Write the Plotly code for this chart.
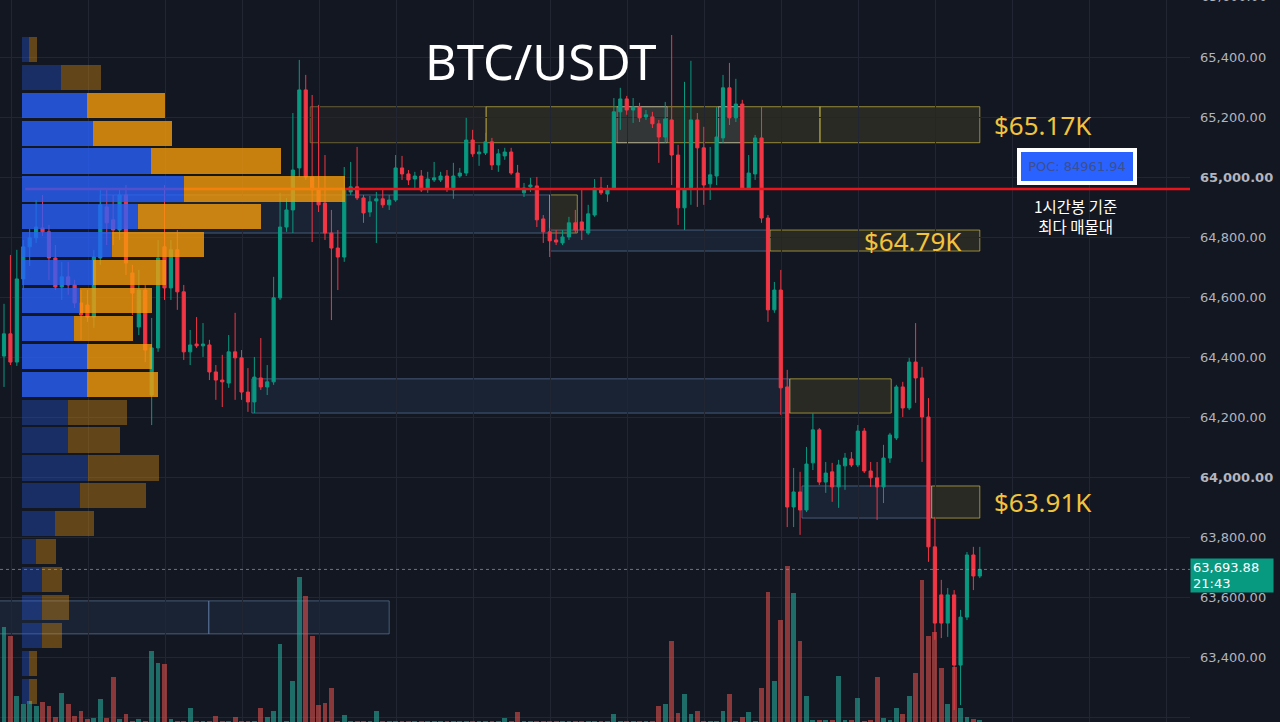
import plotly.graph_objects as go

# ---------------- data ----------------
opens = [64405, 64479, 64385, 64662, 64769, 64799, 64832, 64819, 64732, 64635,
         64669, 64642, 64582, 64575, 64535, 64732, 64902, 64859, 64825, 64942,
         64682, 64502, 64625, 64275, 64432, 64769, 64632, 64759, 64619, 64419,
         64445, 64439, 64442, 64352, 64325, 64315, 64419, 64399, 64285, 64252,
         64332, 64302, 64319, 64599, 64835, 64892, 65032, 65292, 65002, 64959,
         64915, 64815, 64765, 64735, 64952, 64969, 64932, 64885, 64922, 64929,
         64909, 64925, 65032, 65012, 64995, 65005, 64965, 64992, 64992, 65005,
         64959, 65005, 65015, 65125, 65079, 65082, 65119, 65042, 65072, 65085,
         65015, 64949, 64969, 64972, 64862, 64819, 64792, 64782, 64802, 64849,
         64852, 64815, 64875, 64965, 64945, 64965, 65219, 65262, 65225, 65235,
         65202, 65202, 65179, 65135, 65192, 65075, 64899, 64965, 65192, 65099,
         64979, 65005, 65132, 65299, 65199, 65245, 64965, 65012, 65132, 64865,
         64559, 64625, 64302, 63902, 63952, 63892, 64049, 64159, 63985, 64019,
         63969, 64039, 64062, 64042, 64155, 64022, 63999, 63969, 64065, 64132,
         64302, 64232, 64385, 64332, 64202, 63769, 63609, 63515, 63609, 63375,
         63535, 63742, 63672]
highs = [64579, 64742, 64759, 64792, 64829, 64925, 64942, 64842, 64775, 64719,
         64719, 64659, 64625, 64625, 64759, 64959, 64959, 64942, 64965, 64975,
         64709, 64692, 64642, 64532, 64792, 64975, 64792, 64825, 64642, 64492,
         64535, 64515, 64459, 64375, 64409, 64475, 64549, 64425, 64365, 64402,
         64465, 64375, 64669, 64949, 64932, 65215, 65392, 65342, 65275, 65242,
         65075, 64892, 64825, 65035, 65052, 65102, 64942, 64939, 64952, 64959,
         64942, 65075, 65072, 65025, 65019, 65025, 65019, 65052, 65019, 65025,
         65049, 65032, 65199, 65159, 65109, 65149, 65132, 65095, 65099, 65099,
         65042, 64982, 64999, 65002, 64875, 64832, 64825, 64825, 64869, 64892,
         64959, 64909, 64995, 65002, 64975, 65265, 65299, 65272, 65265, 65249,
         65225, 65219, 65192, 65252, 65475, 65109, 65319, 65389, 65215, 65169,
         65102, 65235, 65342, 65382, 65329, 65259, 65075, 65142, 65235, 64875,
         64652, 64692, 64359, 64032, 64019, 64102, 64215, 64165, 64052, 64049,
         64059, 64082, 64085, 64175, 64165, 64052, 64052, 64109, 64149, 64309,
         64319, 64399, 64515, 64369, 64265, 63869, 63659, 63632, 63625, 63559,
         63752, 63769, 63769]
lows = [64302, 64375, 64372, 64625, 64705, 64782, 64805, 64659, 64625, 64592,
        64609, 64565, 64459, 64519, 64499, 64709, 64775, 64775, 64792, 64675,
        64542, 64475, 64385, 64175, 64419, 64592, 64592, 64559, 64392, 64375,
        64432, 64402, 64325, 64259, 64235, 64299, 64259, 64259, 64219, 64215,
        64292, 64275, 64309, 64592, 64819, 64815, 65002, 64992, 64785, 64885,
        64792, 64525, 64625, 64719, 64942, 64925, 64849, 64869, 64782, 64899,
        64892, 64919, 64992, 64975, 64965, 64952, 64949, 64985, 64985, 64952,
        64929, 64999, 65005, 65069, 65039, 65075, 65025, 65019, 65059, 65009,
        64959, 64935, 64952, 64835, 64782, 64735, 64775, 64775, 64792, 64815,
        64792, 64809, 64869, 64942, 64919, 64959, 65159, 65209, 65182, 65185,
        65192, 65165, 65049, 65115, 64975, 64842, 64825, 64909, 64902, 64909,
        64925, 64975, 65115, 65175, 65185, 64959, 64959, 64992, 64849, 64519,
        64549, 64209, 63835, 63835, 63809, 63885, 64025, 63975, 63949, 63919,
        63899, 63959, 64035, 64035, 64015, 63969, 63859, 63915, 64049, 64125,
        64202, 64225, 64249, 64052, 63719, 63459, 63465, 63469, 63225, 63242,
        63525, 63625, 63665]
closes = [64479, 64385, 64662, 64769, 64799, 64835, 64819, 64732, 64635, 64669,
          64642, 64582, 64542, 64535, 64735, 64909, 64849, 64825, 64942, 64715,
          64615, 64625, 64425, 64432, 64732, 64632, 64759, 64619, 64419, 64442,
          64439, 64445, 64352, 64325, 64319, 64419, 64399, 64285, 64252, 64335,
          64302, 64319, 64599, 64835, 64892, 65025, 65292, 65002, 64959, 64909,
          64815, 64765, 64735, 64959, 64969, 64932, 64882, 64919, 64929, 64909,
          64925, 65032, 65012, 64992, 65005, 64959, 64995, 64999, 65005, 64962,
          65005, 65015, 65125, 65079, 65085, 65119, 65042, 65079, 65085, 65015,
          64965, 64965, 64975, 64859, 64819, 64789, 64785, 64802, 64849, 64825,
          64825, 64879, 64965, 64949, 64959, 65219, 65262, 65225, 65235, 65199,
          65209, 65179, 65135, 65195, 65075, 64899, 64959, 65192, 65099, 64975,
          65009, 65135, 65299, 65199, 65245, 64965, 65015, 65132, 64865, 64559,
          64625, 64299, 63902, 63952, 63892, 64045, 64159, 63985, 64015, 63969,
          64042, 64065, 64042, 64155, 64022, 63999, 63969, 64065, 64142, 64302,
          64232, 64385, 64332, 64202, 63769, 63515, 63515, 63609, 63375, 63535,
          63742, 63672, 63693.88]
volumes = [285, 258, 78, 54, 63, 48, 60, 48, 15, 87,
           54, 18, 33, 9, 12, 69, 12, 135, 9, 24,
           3, 9, 3, 213, 177, 174, 9, 3, 3, 42,
           3, 3, 3, 18, 3, 3, 15, 3, 3, 3,
           42, 15, 33, 234, 3, 123, 435, 378, 258, 51,
           57, 102, 3, 21, 3, 3, 3, 3, 33, 3,
           3, 3, 3, 3, 3, 3, 3, 3, 3, 3,
           3, 3, 3, 3, 3, 3, 3, 3, 12, 3,
           30, 3, 3, 3, 3, 3, 3, 3, 3, 3,
           3, 3, 3, 3, 3, 24, 3, 3, 3, 3,
           3, 3, 48, 54, 243, 27, 84, 24, 33, 3,
           3, 3, 33, 84, 3, 15, 30, 3, 102, 390,
           123, 306, 468, 387, 243, 78, 6, 6, 6, 6,
           138, 6, 6, 72, 3, 6, 135, 12, 6, 42,
           24, 78, 147, 426, 258, 270, 162, 54, 165, 42,
           15, 9, 6]

price_ticks = [63200, 63400, 63600, 63800, 64000, 64200, 64400, 64600,
               64800, 65000, 65200, 65400]

profile_levels = [65427, 65334, 65241, 65148, 65055, 64962, 64869, 64776,
                  64683, 64590, 64497, 64404, 64311, 64218, 64125, 64032,
                  63939, 63846, 63753, 63660, 63567, 63474, 63381, 63288]
profile_buy = [21, 117, 195, 213, 387, 486, 348, 270, 213, 174, 156, 195,
               195, 138, 138, 198, 174, 99, 42, 60, 60, 60, 21, 21]
profile_sell = [24, 120, 234, 237, 390, 483, 369, 276, 219, 216, 177, 195,
                213, 177, 156, 213, 198, 117, 60, 60, 81, 60, 24, 24]
value_area = [False, False, True, True, True, True, True, True, True, True,
              True, True, True, False, False, False, False, False, False,
              False, False, False, False, False]

poc_price = 64961.94
last_price = 63693.88
last_time = "21:43"

zone_start = [47.7, 75.1, 127.1, 95.5, 111.3, 15.0, 85.0, 85.0, 119.3,
              38.6, 122.4, 124.3, 144.5, -1.0, 31.9]
zone_end = [75.1, 127.1, 152.0, 103.3, 114.8, 85.0, 89.3, 119.3, 152.0,
            122.4, 138.2, 144.5, 152.0, 31.9, 60.0]
zone_top = [65236, 65236, 65236, 65236, 65236, 64942, 64942, 64825, 64825,
            64329, 64329, 63972, 63972, 63589, 63589]
zone_bottom = [65116, 65116, 65116, 65116, 65116, 64815, 64815, 64755, 64755,
               64215, 64215, 63865, 63865, 63479, 63479]
zone_kind = ["faint", "yellow", "yellow", "grey", "grey", "blue", "yellow",
             "blue", "yellow", "blue", "yellow", "blue", "yellow", "blue", "blue"]

level_labels = ["$65.17K", "$64.79K", "$63.91K"]
level_label_price = [65175, 64790, 63918]
level_label_idx = [153.9, 133.6, 153.9]

# ---------------- styles ----------------
BG = "#131722"
GRID = "#222632"
UP = "#089981"
DOWN = "#f23645"
zone_style = {
    "yellow": dict(fill="rgba(150,135,50,0.18)", line="rgba(215,195,70,0.65)"),
    "faint": dict(fill="rgba(120,110,60,0.10)", line="rgba(200,180,70,0.45)"),
    "grey": dict(fill="rgba(90,110,140,0.18)", line="rgba(190,195,205,0.55)"),
    "blue": dict(fill="rgba(60,100,150,0.16)", line="rgba(110,140,185,0.55)"),
}

x_idx = list(range(len(closes)))
x_range = [-0.623, 184.74]
y_range = [63185.3, 65591.7]

fig = go.Figure()

# volume (main subplot, bottom layer)
vol_colors = ["rgba(38,166,154,0.6)" if c >= o else "rgba(239,83,80,0.55)"
              for o, c in zip(opens, closes)]
fig.add_trace(go.Bar(x=x_idx, y=volumes, marker=dict(color=vol_colors, line_width=0),
                     width=0.75, xaxis="x", yaxis="y", hoverinfo="skip"))

# candles
fig.add_trace(go.Candlestick(
    x=x_idx, open=opens, high=highs, low=lows, close=closes,
    increasing=dict(line=dict(color=UP, width=1), fillcolor=UP),
    decreasing=dict(line=dict(color=DOWN, width=1), fillcolor=DOWN),
    whiskerwidth=0, xaxis="x", yaxis="y2", hoverinfo="skip"))

# last price dotted line
fig.add_trace(go.Scatter(x=x_range, y=[last_price, last_price], mode="lines",
                         line=dict(color="rgba(140,146,160,0.75)", width=1, dash="dot"),
                         xaxis="x", yaxis="y2", hoverinfo="skip"))
# POC line
fig.add_trace(go.Scatter(x=[3.3, x_range[1]], y=[poc_price, poc_price], mode="lines",
                         line=dict(color="#e8141c", width=2.5),
                         xaxis="x", yaxis="y2", hoverinfo="skip"))

# volume profile (overlay, top layer)
buy_colors = ["rgba(41,98,255,0.78)" if v else "rgba(41,98,255,0.30)" for v in value_area]
sell_colors = ["rgba(245,155,10,0.80)" if v else "rgba(245,155,10,0.35)" for v in value_area]
fig.add_trace(go.Bar(y=profile_levels, x=profile_buy, orientation="h", width=84,
                     marker=dict(color=buy_colors, line_width=0),
                     xaxis="x2", yaxis="y2", hoverinfo="skip"))
fig.add_trace(go.Bar(y=profile_levels, x=profile_sell, orientation="h", width=84,
                     marker=dict(color=sell_colors, line_width=0),
                     xaxis="x2", yaxis="y2", hoverinfo="skip"))

# zones
shapes = []
for s, e, t, b, k in zip(zone_start, zone_end, zone_top, zone_bottom, zone_kind):
    st = zone_style[k]
    shapes.append(dict(type="rect", xref="x", yref="y2", x0=s, x1=e, y0=b, y1=t,
                       fillcolor=st["fill"], line=dict(color=st["line"], width=1),
                       layer="below"))

annotations = []
annotations.append(dict(text="BTC/USDT", xref="paper", yref="paper", x=0.455, y=0.915,
                        showarrow=False, font=dict(family="Noto Sans", size=49, color="white"),
                        xanchor="center", yanchor="middle"))
for lbl, p, xi in zip(level_labels, level_label_price, level_label_idx):
    annotations.append(dict(text=lbl, xref="x", yref="y2", x=xi, y=p, showarrow=False,
                            xanchor="left", yanchor="middle",
                            font=dict(family="Noto Sans", size=26, color="#f2c33c")))
annotations.append(dict(text="POC: 84961.94", xref="paper", yref="paper", x=0.905, y=0.7687,
                        showarrow=False, xanchor="center", yanchor="middle",
                        width=110, height=27, bgcolor="#2962ff", bordercolor="white",
                        borderwidth=4, borderpad=1,
                        font=dict(family="DejaVu Sans", size=13, color="#3d4f8f")))
annotations.append(dict(text="1시간봉 기준<br>최다 매물대", xref="paper", yref="paper",
                        x=0.904, y=0.701, showarrow=False, xanchor="center", yanchor="middle",
                        font=dict(family="Noto Sans CJK KR", size=15.5, color="white")))
annotations.append(dict(text=f"{last_price:,.2f}<br>{last_time}", xref="paper", yref="paper",
                        x=1.0, y=0.2036, showarrow=False, xanchor="left", yanchor="middle",
                        align="left", width=78, height=29, bgcolor=UP, borderpad=2,
                        font=dict(family="DejaVu Sans", size=13, color="white")))
annotations.append(dict(text="65,600.00", xref="paper", yref="paper", x=1.0, y=1 + 3 / 722,
                        showarrow=False, xanchor="left", yanchor="middle", xshift=9,
                        font=dict(family="DejaVu Sans", size=13, color="#b2b5be")))

tick_text = [f"<b>{v:,.2f}</b>" if v in (64000, 65000) else f"{v:,.2f}" for v in price_ticks]

fig.update_layout(
    width=1280, height=722,
    margin=dict(l=0, r=90, t=0, b=0),
    paper_bgcolor=BG, plot_bgcolor=BG,
    showlegend=False, hovermode=False, barmode="stack",
    template="none",
    xaxis=dict(range=x_range, showgrid=True, gridcolor=GRID, gridwidth=1,
               tick0=1.1, dtick=12, showticklabels=False, zeroline=False,
               showline=False, ticks="", rangeslider=dict(visible=False),
               automargin=False),
    yaxis=dict(range=[0, 2166], visible=False, showgrid=False, zeroline=False,
               automargin=False),
    xaxis2=dict(range=[-66, 3504], overlaying="x", side="top", visible=False,
                showgrid=False, zeroline=False, automargin=False),
    yaxis2=dict(range=y_range, overlaying="y", side="right", anchor="x",
                tickvals=price_ticks, ticktext=tick_text, showgrid=True,
                gridcolor=GRID, gridwidth=1, zeroline=False, ticks="",
                ticklabelstandoff=9, automargin=False,
                tickfont=dict(family="DejaVu Sans", size=13, color="#b2b5be")),
    shapes=shapes, annotations=annotations,
)

fig.write_html(
    "out.html",
    config={"displayModeBar": False},
    post_script="document.body.style.margin='0';document.body.style.padding='0';"
                "document.body.style.overflow='hidden';"
                "document.body.style.background='#131722';",
)
